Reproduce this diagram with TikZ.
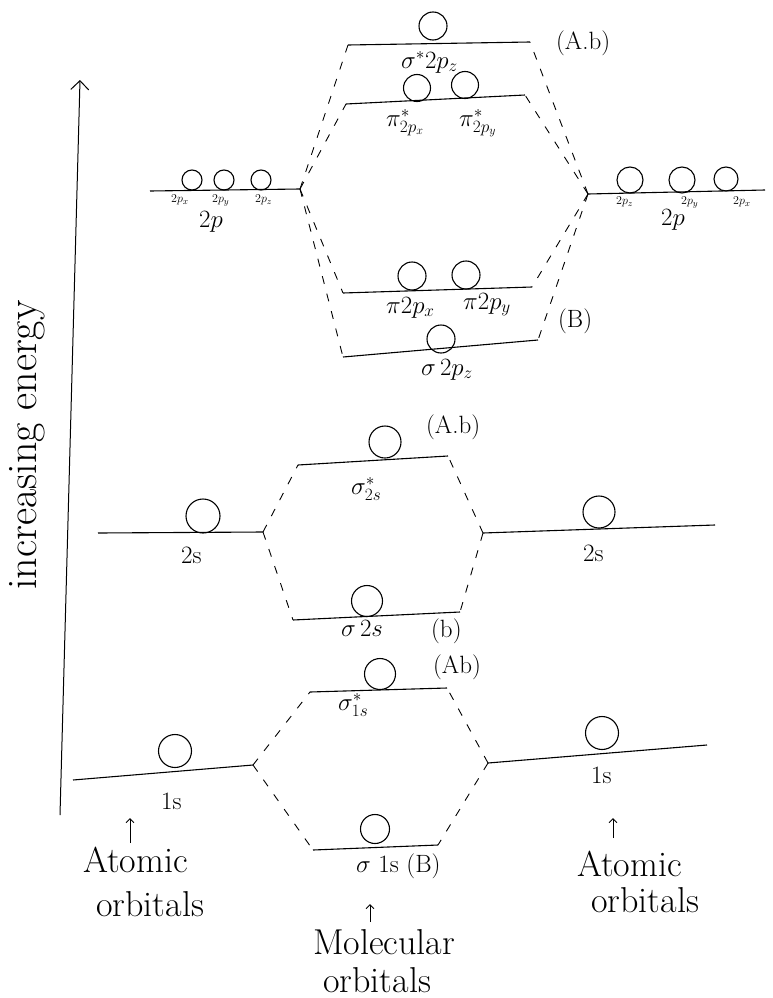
\documentclass[tikz,border=0pt]{standalone}
\usepackage{fontspec}
\usetikzlibrary{arrows.meta}
\tikzset{every picture/.style={line width=0.75pt}}
\tikzset{
  level/.style={line width=1.1pt},
  link/.style={line width=0.9pt, dash pattern={on 8pt off 10pt}},
  orb/.style={draw, circle, inner sep=0pt, minimum size=#1, line width=1.1pt},
  orb/.default=28pt,
  lab/.style={anchor=north west, inner sep=0.75pt, font=\fontsize{25}{30}\selectfont},
  sublab/.style={anchor=north west, inner sep=0.75pt, font=\fontsize{13}{15}\selectfont},
  biglab/.style={anchor=north west, inner sep=0.75pt, font=\fontsize{36}{42}\selectfont},
}

\begin{document}
\begin{tikzpicture}[x=1pt,y=1pt,yscale=-1,xscale=1]
\path[use as bounding box] (0,0) rectangle (773,998);

%Energy axis
\coordinate (axisB) at (60,815);
\coordinate (axisT) at (80,80);
\draw [line width=1pt,-{Straight Barb[length=9pt,width=18pt]}] (axisB) -- (axisT);
% Text Node
\draw (27,445) node [rotate=90,inner sep=0.75pt,font=\fontsize{42}{48}\selectfont] (axislab) {increasing energy};

%Levels 2p
\coordinate (as2pL) at (348,45);  \coordinate (as2pR) at (530,42);
\coordinate (api2pL) at (346,104); \coordinate (api2pR) at (525,95);
\coordinate (bpi2pL) at (343,293); \coordinate (bpi2pR) at (532,287);
\coordinate (bs2pL) at (343,357);  \coordinate (bs2pR) at (538,340);
\coordinate (L2pA) at (150,191);   \coordinate (L2pB) at (300,189);
\coordinate (R2pA) at (588,194);   \coordinate (R2pB) at (765,190);
\foreach \a/\b in {as2pL/as2pR,api2pL/api2pR,bpi2pL/bpi2pR,bs2pL/bs2pR,L2pA/L2pB,R2pA/R2pB}
  \draw [level] (\a) -- (\b);

%Levels 2s
\coordinate (as2sL) at (298,465);  \coordinate (as2sR) at (448,456);
\coordinate (bs2sL) at (293,620);  \coordinate (bs2sR) at (460,612);
\coordinate (L2sA) at (98,533);    \coordinate (L2sB) at (263,532);
\coordinate (R2sA) at (483,533);   \coordinate (R2sB) at (715,525);
\foreach \a/\b in {as2sL/as2sR,bs2sL/bs2sR,L2sA/L2sB,R2sA/R2sB}
  \draw [level] (\a) -- (\b);

%Levels 1s
\coordinate (as1sL) at (310,692);  \coordinate (as1sR) at (447,688);
\coordinate (bs1sL) at (313,850);  \coordinate (bs1sR) at (438,845);
\coordinate (L1sA) at (73,780);    \coordinate (L1sB) at (253,765);
\coordinate (R1sA) at (488,763);   \coordinate (R1sB) at (707,745);
\foreach \a/\b in {as1sL/as1sR,bs1sL/bs1sR,L1sA/L1sB,R1sA/R1sB}
  \draw [level] (\a) -- (\b);

%Dashed links
\foreach \m in {as2pL,api2pL,bpi2pL,bs2pL} \draw [link] (L2pB) -- (\m);
\foreach \m in {as2pR,api2pR,bpi2pR,bs2pR} \draw [link] (R2pA) -- (\m);
\foreach \m in {as2sL,bs2sL} \draw [link] (L2sB) -- (\m);
\foreach \m in {as2sR,bs2sR} \draw [link] (R2sA) -- (\m);
\foreach \m in {as1sL,bs1sL} \draw [link] (L1sB) -- (\m);
\foreach \m in {as1sR,bs1sR} \draw [link] (R1sA) -- (\m);

%Orbitals
\node [orb] (oas2p) at (433,26) {};
\node [orb=27pt] (oapix) at (417,88) {};
\node [orb=27pt] (oapiy) at (465,85) {};
\node [orb=20pt] (oL2px) at (192,180) {};
\node [orb=20pt] (oL2py) at (224,180) {};
\node [orb=20pt] (oL2pz) at (261,180) {};
\node [orb=26pt] (oR2pz) at (630,180) {};
\node [orb=26pt] (oR2py) at (682,180) {};
\node [orb=24pt] (oR2px) at (726,179) {};
\node [orb] (obpix) at (412,276) {};
\node [orb] (obpiy) at (466,275) {};
\node [orb] (obs2p) at (441,339) {};
\node [orb=32pt] (oas2s) at (385,442) {};
\node [orb=34pt] (oL2s) at (203,516) {};
\node [orb=32pt] (oR2s) at (599,512) {};
\node [orb=31pt] (obs2s) at (367,601) {};
\node [orb=31pt] (oas1s) at (380,674) {};
\node [orb=33pt] (oL1s) at (175,751) {};
\node [orb=33pt] (oR1s) at (602,733) {};
\node [orb=29pt] (obs1s) at (375,829) {};

% Text Node
\node [lab] (tas2p) at (400,50) {$\sigma^{*}2p_z$};
\node [lab] (tab1) at (555,30) {(A.b)};
\node [lab] (tapix) at (385,108) {$\pi^{*}_{2p_x}$};
\node [lab] (tapiy) at (458,108) {$\pi^{*}_{2p_y}$};
\node [sublab] (tL2px) at (170,194) {$2p_x$};
\node [sublab] (tL2py) at (211,194) {$2p_y$};
\node [sublab] (tL2pz) at (254,194) {$2p_z$};
\node [lab] (tL2p) at (198,210) {$2p$};
\node [sublab] (tR2pz) at (615,196) {$2p_z$};
\node [sublab] (tR2py) at (680,196) {$2p_y$};
\node [sublab] (tR2px) at (732,196) {$2p_x$};
\node [lab] (tR2p) at (660,208) {$2p$};
\node [lab] (tbpix) at (385,296) {$\pi 2p_x$};
\node [lab] (tbpiy) at (462,292) {$\pi 2p_y$};
\node [lab] (tB1) at (557,308) {(B)};
\node [lab] (tbs2p) at (420,358) {$\sigma\,2p_z$};
\node [lab] (tab2) at (425,414) {(A.b)};
\node [lab] (tas2s) at (350,476) {$\sigma^{*}_{2s}$};
\node [lab] (tL2s) at (180,546) {2s};
\node [lab] (tR2s) at (582,544) {2s};
\node [lab] (tbs2s) at (340,619) {$\sigma\,2s$};
\node [lab] (tb3) at (430,618) {(b)};
\node [lab] (tab3) at (432,654) {(Ab)};
\node [lab] (tas1s) at (337,692) {$\sigma^{*}_{1s}$};
\node [lab] (tL1s) at (160,792) {1s};
\node [lab] (tR1s) at (590,766) {1s};
\node [lab] (tbs1s) at (355,853) {$\sigma$ 1s (B)};

%Bottom captions
\coordinate (arL) at (130,843);  \coordinate (arLt) at (130,818);
\coordinate (arR) at (613,838);  \coordinate (arRt) at (613,818);
\coordinate (arM) at (370,922);  \coordinate (arMt) at (370,904);
\draw [line width=1pt,-{Straight Barb[length=4pt,width=8pt]}] (arL) -- (arLt);
\draw [line width=1pt,-{Straight Barb[length=4pt,width=8pt]}] (arR) -- (arRt);
\draw [line width=1pt,-{Straight Barb[length=4pt,width=8pt]}] (arM) -- (arMt);
\node [biglab] (tAoL) at (82,846) {Atomic};
\node [biglab] (tAoL2) at (95,890) {orbitals};
\node [biglab] (tAoR) at (576,850) {Atomic};
\node [biglab] (tAoR2) at (590,886) {orbitals};
\node [biglab] (tMo) at (312,928) {Molecular};
\node [biglab] (tMo2) at (322,966) {orbitals};

\end{tikzpicture}
\end{document}
